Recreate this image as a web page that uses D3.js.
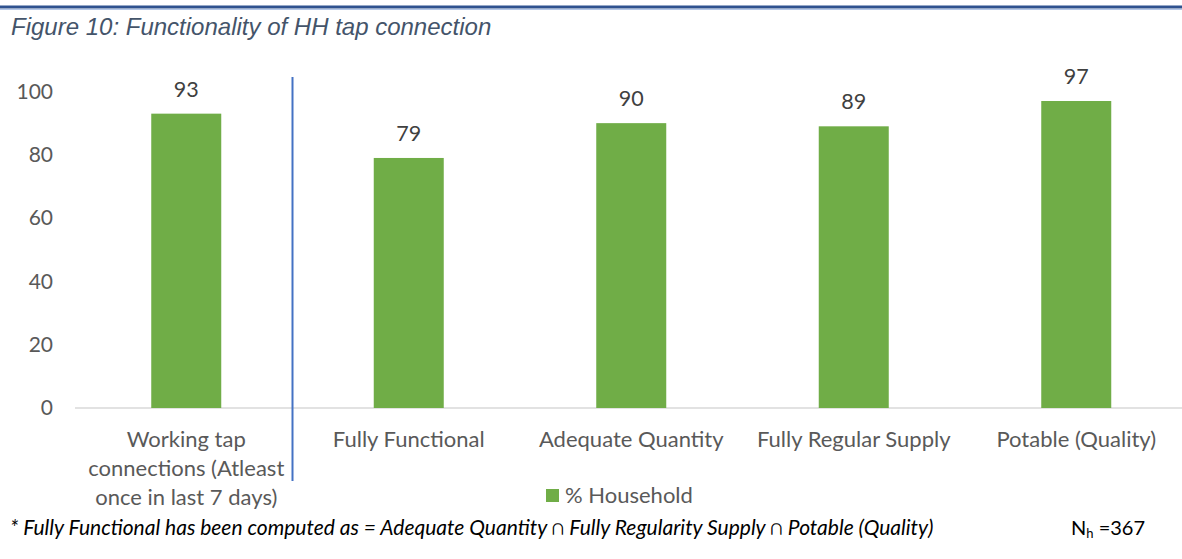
<!DOCTYPE html>
<html>
<head>
<meta charset="utf-8">
<script src="https://cdn.jsdelivr.net/npm/d3@7"></script>
<style>
  body { margin: 0; background: #fff; }
  svg { display: block; }
  .tick text { font-family: Lato, "Open Sans", sans-serif; }
</style>
</head>
<body>
<div id="chart"></div>
<script>
  "use strict";

  var categories = [
    "Working tap\nconnections (Atleast\nonce in last 7 days)",
    "Fully Functional",
    "Adequate Quantity",
    "Fully Regular Supply",
    "Potable (Quality)"
  ];
  var household = [93, 79, 90, 89, 97];
  var yTicks = [0, 20, 40, 60, 80, 100];
  var seriesName = "% Household";
  var title = "Figure 10: Functionality of HH tap connection";
  var footnote = "* Fully Functional has been computed as = Adequate Quantity \u2229 Fully Regularity Supply \u2229 Potable (Quality)";

  var width = 1182,
    height = 559,
    font = "Lato, 'Open Sans', sans-serif";

  var svg = d3.select("#chart")
    .append("svg")
    .attr("width", width)
    .attr("height", height);

  // top rule
  svg.append("line")
    .attr("x1", 0).attr("x2", width)
    .attr("y1", 7).attr("y2", 7)
    .attr("stroke", "#2f528f")
    .attr("stroke-width", 3);
  svg.append("line")
    .attr("x1", 0).attr("x2", width)
    .attr("y1", 9.5).attr("y2", 9.5)
    .attr("stroke", "#b4c7e7")
    .attr("stroke-width", 1);

  // title
  svg.append("text")
    .attr("x", 11)
    .attr("y", 35)
    .attr("font-family", "'Liberation Sans', Arial, sans-serif")
    .attr("font-style", "italic")
    .attr("font-size", 24)
    .attr("fill", "#44546a")
    .text(title);

  // scales
  var x = d3.scaleBand()
    .domain(categories)
    .range([75, 1187.5])
    .paddingInner(0)
    .paddingOuter(0);

  var y = d3.scaleLinear()
    .domain([0, 100])
    .range([408, 91.5]);

  var barWidth = 70;

  // y axis labels only
  var yAxis = svg.append("g")
    .attr("transform", "translate(53,0)")
    .call(d3.axisLeft(y).tickValues(yTicks).tickSize(0).tickPadding(0));
  yAxis.select(".domain").remove();
  yAxis.selectAll("text")
    .attr("font-size", 21)
    .attr("fill", "#595959");

  // baseline
  svg.append("line")
    .attr("x1", x.range()[0]).attr("x2", x.range()[1])
    .attr("y1", y(0)).attr("y2", y(0))
    .attr("stroke", "#d9d9d9")
    .attr("stroke-width", 1.5);

  // bars
  var bar = svg.selectAll(".bar")
    .data(household)
    .enter()
    .append("g")
    .attr("class", "bar");

  bar.append("rect")
    .attr("x", function(d, i) { return x(categories[i]) + x.bandwidth() / 2 - barWidth / 2; })
    .attr("y", function(d) { return y(d); })
    .attr("width", barWidth)
    .attr("height", function(d) { return y(0) - y(d); })
    .attr("fill", "#70ad47");

  bar.append("text")
    .attr("x", function(d, i) { return x(categories[i]) + x.bandwidth() / 2; })
    .attr("y", function(d) { return y(d) - 17; })
    .attr("text-anchor", "middle")
    .attr("font-family", font)
    .attr("font-size", 21.5)
    .attr("fill", "#404040")
    .text(function(d) { return d; });

  // category labels
  var catLabel = svg.selectAll(".cat")
    .data(categories)
    .enter()
    .append("text")
    .attr("class", "cat")
    .attr("text-anchor", "middle")
    .attr("font-family", font)
    .attr("font-size", 22)
    .attr("fill", "#595959");

  catLabel.selectAll("tspan")
    .data(function(d) {
      var lines = d.split("\n");
      var cx = x(d) + x.bandwidth() / 2;
      return lines.map(function(l) { return { text: l, cx: cx }; });
    })
    .enter()
    .append("tspan")
    .attr("x", function(d) { return d.cx; })
    .attr("y", function(d, i) { return 446.5 + i * 29; })
    .text(function(d) { return d.text; });

  // separator after first category
  svg.append("line")
    .attr("x1", 292.5).attr("x2", 292.5)
    .attr("y1", 77).attr("y2", 481)
    .attr("stroke", "#4472c4")
    .attr("stroke-width", 2);

  // legend
  var legend = svg.append("g")
    .attr("transform", "translate(546,489)");
  legend.append("rect")
    .attr("width", 13)
    .attr("height", 13)
    .attr("fill", "#70ad47");
  legend.append("text")
    .attr("x", 19)
    .attr("y", 14)
    .attr("font-family", font)
    .attr("font-size", 22)
    .attr("fill", "#595959")
    .text(seriesName);

  // footnote
  svg.append("text")
    .attr("x", 10)
    .attr("y", 535)
    .attr("font-family", font)
    .attr("font-style", "italic")
    .attr("font-size", 21)
    .attr("fill", "#000")
    .text(footnote);

  var nh = svg.append("text")
    .attr("x", 1071)
    .attr("y", 535)
    .attr("font-family", font)
    .attr("font-size", 20)
    .attr("fill", "#000");
  nh.append("tspan").text("N");
  nh.append("tspan").attr("font-size", 13).attr("dy", 3).text("h");
  nh.append("tspan").attr("dy", -3).text(" =367");
</script>
</body>
</html>
